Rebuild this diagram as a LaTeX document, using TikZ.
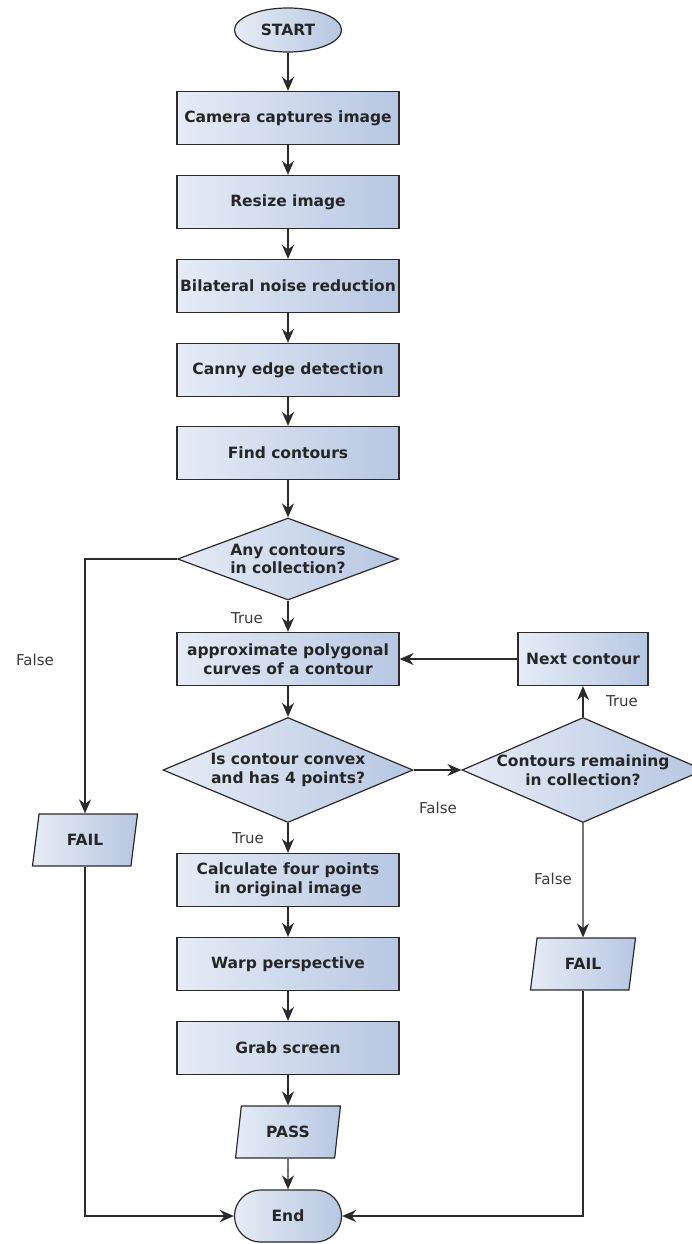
\documentclass[tikz,border=0pt]{standalone}
\usepackage{fontspec}
\setmainfont{DejaVu Sans}
\usetikzlibrary{arrows.meta, shapes.geometric}

\definecolor{boxlight}{HTML}{E6ECF6}
\definecolor{boxdark}{HTML}{B7C7E2}
\definecolor{edgegray}{HTML}{2B2B2B}
\definecolor{lblgray}{HTML}{3A3A3A}

\tikzset{
  base/.style={draw=edgegray, line width=1.2pt, left color=boxlight, right color=boxdark,
    font=\fontsize{15.5}{18.5}\selectfont\bfseries, text=black!85, align=center, inner sep=0pt},
  process/.style={base, rectangle, minimum width=222pt, minimum height=53pt},
  terminal/.style={base, ellipse, minimum width=107pt, minimum height=44pt},
  stadium/.style={base, rectangle, rounded corners=26pt, minimum width=107pt, minimum height=52pt},
  inout/.style={base, trapezium, trapezium left angle=77, trapezium right angle=103,
    trapezium stretches=true, minimum width=105pt, minimum height=52pt},
  decision/.style={base, diamond},
  dtext/.style={font=\fontsize{15.5}{18.5}\selectfont\bfseries, text=black!85, align=center, inner sep=0pt},
  flow/.style={draw=edgegray, line width=1.3pt, -{Stealth[length=14pt,width=12pt]}},
  lbl/.style={font=\fontsize{15}{18}\selectfont, text=lblgray},
}

\begin{document}
\begin{tikzpicture}[x=1pt, y=-1pt]
    \useasboundingbox (0,0) rectangle (692,1244);

    % Main column
    \node[terminal] (start) at (288,30) {START};
    \node[process] (camera) at (288,118) {Camera captures image};
    \node[process] (resize) at (288,202) {Resize image};
    \node[process] (bilateral) at (288,286) {Bilateral noise reduction};
    \node[process] (canny) at (288,370) {Canny edge detection};
    \node[process] (contours) at (288,453) {Find contours};
    \node[decision, minimum width=221pt, minimum height=82pt,
      label={[dtext]center:{Any contours\\in collection?}}] (anyc) at (288,559) {};
    \node[process] (approx) at (288,659) {approximate polygonal\\curves of a contour};
    \node[decision, minimum width=250pt, minimum height=105pt,
      label={[dtext]center:{Is contour convex\\and has 4 points?}}] (convex) at (288,770) {};
    \node[process] (calc) at (288,880) {Calculate four points\\in original image};
    \node[process] (warp) at (288,964) {Warp perspective};
    \node[process] (grab) at (288,1048) {Grab screen};
    \node[inout] (pass) at (288,1132) {PASS};
    \node[stadium] (end) at (288,1216) {End};

    % Side branches
    \node[inout] (failleft) at (85,840) {FAIL};
    \node[process, minimum width=130pt] (next) at (583,659) {Next contour};
    \node[decision, minimum width=242pt, minimum height=105pt,
      label={[dtext]center:{Contours remaining\\in collection?}}] (remain) at (583,770) {};
    \node[inout] (failright) at (583,964) {FAIL};

    % Connectors
    \draw[flow] (start) -- (camera);
    \draw[flow] (camera) -- (resize);
    \draw[flow] (resize) -- (bilateral);
    \draw[flow] (bilateral) -- (canny);
    \draw[flow] (canny) -- (contours);
    \draw[flow] (contours) -- (anyc);
    \draw[flow] (anyc) -- (approx);
    \draw[flow] (approx) -- (convex);
    \draw[flow] (convex) -- (calc);
    \draw[flow] (calc) -- (warp);
    \draw[flow] (warp) -- (grab);
    \draw[flow] (grab) -- (pass);
    \draw[flow] (pass) -- (end);
    \draw[flow] (anyc.west) -| (failleft.north);
    \draw[flow] (failleft.south) |- (end.west);
    \draw[flow] (convex.east) -- (remain.west);
    \draw[flow] (remain.north) -- (next.south);
    \draw[flow] (next.west) -- (approx.east);
    \draw[flow] (remain.south) -- (failright.north);
    \draw[flow] (failright.south) |- (end.east);

    % Branch labels
    \node[lbl] (ttrue1) at (247,618) {True};
    \node[lbl] (tfalse1) at (35,660) {False};
    \node[lbl] (ttrue2) at (248,838) {True};
    \node[lbl] (tfalse2) at (438,808) {False};
    \node[lbl] (ttrue3) at (622,701) {True};
    \node[lbl] (tfalse3) at (553,879) {False};
\end{tikzpicture}
\end{document}
